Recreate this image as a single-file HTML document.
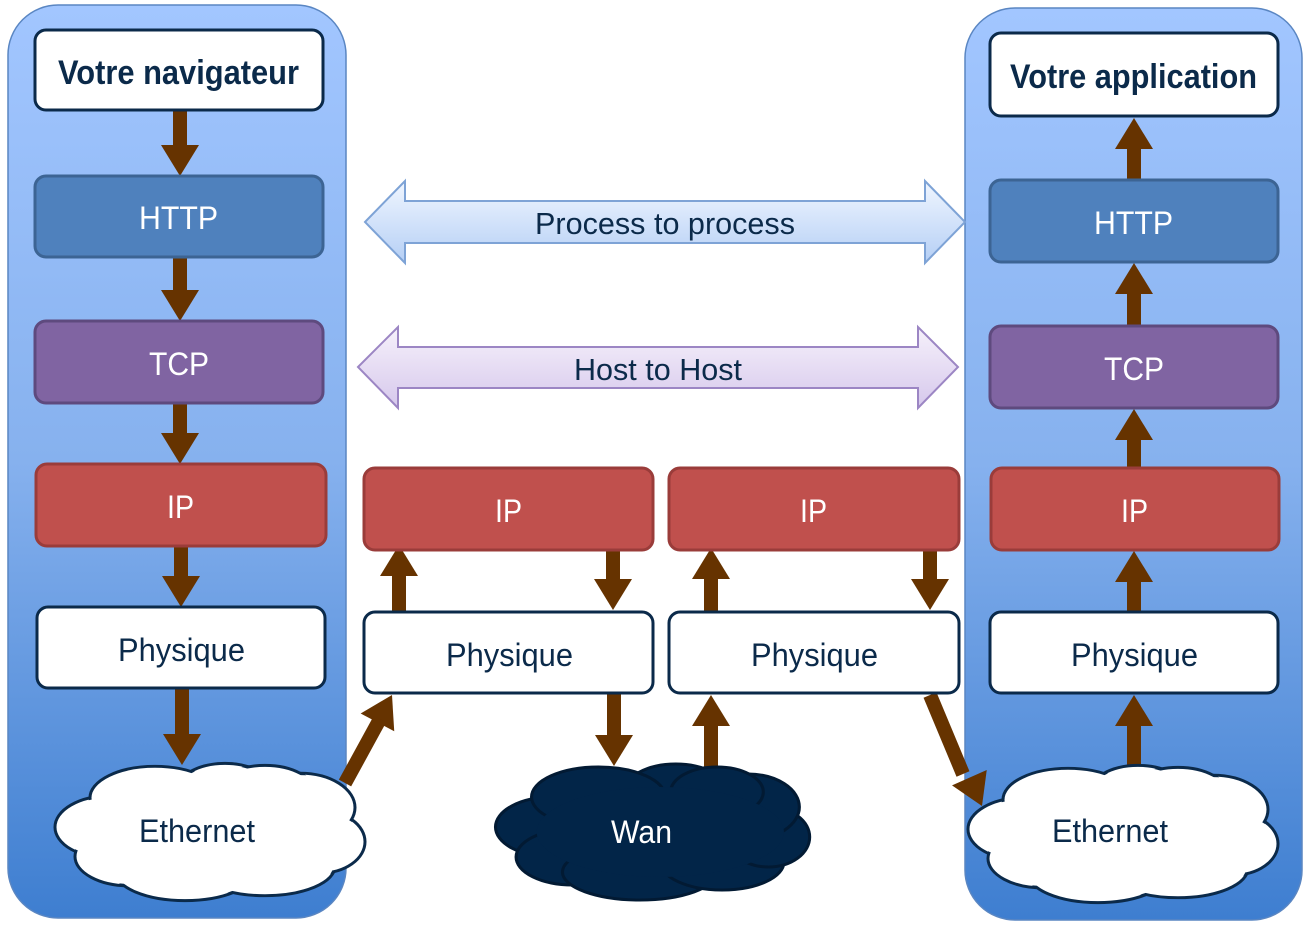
<!DOCTYPE html>
<html><head><meta charset="utf-8"><style>
html,body{margin:0;padding:0;background:#fff}
svg{display:block}
text{font-family:"Liberation Sans Narrow","Liberation Sans",sans-serif}
</style></head><body>
<svg width="1310" height="932" viewBox="0 0 1310 932" xmlns="http://www.w3.org/2000/svg">
<defs>
<linearGradient id="pg" x1="0" y1="0" x2="0" y2="1">
<stop offset="0" stop-color="#a2c6ff"/><stop offset="0.5" stop-color="#86b1ee"/><stop offset="1" stop-color="#3e7ed0"/></linearGradient>
<linearGradient id="bg1" x1="0" y1="0" x2="0" y2="1"><stop offset="0" stop-color="#f0f6ff"/><stop offset="1" stop-color="#b5cff5"/></linearGradient>
<linearGradient id="bg2" x1="0" y1="0" x2="0" y2="1"><stop offset="0" stop-color="#f6f1fb"/><stop offset="1" stop-color="#d6c8ec"/></linearGradient>
<path id="arrD" d="M-19,-31 H19 L0,0Z" fill="#663300"/>
<g id="cloudW">
<g fill="#fff" stroke="#0b2a4a" stroke-width="3">
<ellipse cx="-95" cy="-5" rx="55" ry="32"/><ellipse cx="-75" cy="25" rx="55" ry="30"/><ellipse cx="-20" cy="40" rx="70" ry="30"/>
<ellipse cx="60" cy="35" rx="70" ry="30"/><ellipse cx="115" cy="10" rx="45" ry="32"/><ellipse cx="95" cy="-25" rx="55" ry="35"/>
<ellipse cx="20" cy="-40" rx="50" ry="30"/><ellipse cx="-50" cy="-35" rx="65" ry="32"/><ellipse cx="60" cy="-40" rx="50" ry="28"/></g>
<g fill="#fff"><ellipse cx="-95" cy="-5" rx="53" ry="30"/><ellipse cx="-75" cy="25" rx="53" ry="28"/><ellipse cx="-20" cy="40" rx="68" ry="28"/>
<ellipse cx="60" cy="35" rx="68" ry="28"/><ellipse cx="115" cy="10" rx="43" ry="30"/><ellipse cx="95" cy="-25" rx="53" ry="33"/>
<ellipse cx="20" cy="-40" rx="48" ry="28"/><ellipse cx="-50" cy="-35" rx="63" ry="30"/><ellipse cx="60" cy="-40" rx="48" ry="26"/><ellipse cx="10" cy="0" rx="120" ry="45"/></g>
</g>
</defs>
<rect x="8" y="5" width="338" height="913" rx="50" fill="url(#pg)" stroke="#5a86c2" stroke-width="1.5"/>
<rect x="965" y="8" width="337" height="912" rx="50" fill="url(#pg)" stroke="#5a86c2" stroke-width="1.5"/>

<path d="M365,222 L405,181 V201 H925 V181 L965,222 L925,263 V243 H405 V263Z" fill="url(#bg1)" stroke="#7ea3d6" stroke-width="2"/>
<text x="535" y="234" font-size="31" textLength="260" lengthAdjust="spacingAndGlyphs" fill="#0b2a4a">Process to process</text>
<path d="M358,367 L398,327 V347 H918 V327 L958,367 L918,408 V388 H398 V408Z" fill="url(#bg2)" stroke="#9c86c4" stroke-width="2"/>
<text x="574" y="380" font-size="31" textLength="168" lengthAdjust="spacingAndGlyphs" fill="#0b2a4a">Host to Host</text>

<g fill="#663300">
<!-- left -->
<rect x="173" y="108" width="14" height="40" /><use href="#arrD" x="180" y="176"/>
<rect x="173" y="256" width="14" height="36" /><use href="#arrD" x="180" y="321"/>
<rect x="173" y="402" width="14" height="34" /><use href="#arrD" x="180" y="464"/>
<rect x="174" y="545" width="14" height="34" /><use href="#arrD" x="181" y="607"/>
<rect x="175" y="687" width="14" height="50" /><use href="#arrD" x="182" y="765"/>
<!-- middle -->
<use href="#arrD" transform="translate(399,545) rotate(180)"/><rect x="392" y="572" width="14" height="42"/>
<use href="#arrD" x="613" y="610"/><rect x="606" y="540" width="14" height="42"/>
<use href="#arrD" transform="translate(711,548) rotate(180)"/><rect x="704" y="575" width="14" height="39"/>
<use href="#arrD" x="930" y="610"/><rect x="923" y="540" width="14" height="42"/>
<use href="#arrD" x="614" y="766"/><rect x="607" y="692" width="14" height="46"/>
<use href="#arrD" transform="translate(711,695) rotate(180)"/><rect x="704" y="722" width="14" height="48"/>
<use href="#arrD" transform="translate(392,695) rotate(208)"/><path d="M345,783 L380,719" stroke="#663300" stroke-width="14"/>
<use href="#arrD" transform="translate(982,806) rotate(-24)"/><path d="M930,695 L963,774" stroke="#663300" stroke-width="14"/>
<!-- right -->
<use href="#arrD" transform="translate(1134,118) rotate(180)"/><rect x="1127" y="146" width="14" height="36"/>
<use href="#arrD" transform="translate(1134,263) rotate(180)"/><rect x="1127" y="291" width="14" height="37"/>
<use href="#arrD" transform="translate(1134,409) rotate(180)"/><rect x="1127" y="437" width="14" height="33"/>
<use href="#arrD" transform="translate(1134,551) rotate(180)"/><rect x="1127" y="579" width="14" height="35"/>
<use href="#arrD" transform="translate(1134,695) rotate(180)"/><rect x="1127" y="723" width="14" height="45"/>
</g>

<g stroke-width="3" font-size="32" lengthAdjust="spacingAndGlyphs">
<rect x="35" y="30" width="288" height="80" rx="11" fill="#fff" stroke="#0b2a4a"/>
<text x="58" y="84" font-weight="bold" font-size="34" textLength="241" lengthAdjust="spacingAndGlyphs" fill="#0b2a4a" stroke="none">Votre navigateur</text>
<rect x="35" y="176" width="288" height="81" rx="11" fill="#4f81bd" stroke="#3c6494"/>
<text x="139" y="229" textLength="79" lengthAdjust="spacingAndGlyphs" fill="#fff" stroke="none">HTTP</text>
<rect x="35" y="321" width="288" height="82" rx="11" fill="#8064a2" stroke="#5e4a7e"/>
<text x="149" y="375" textLength="60" lengthAdjust="spacingAndGlyphs" fill="#fff" stroke="none">TCP</text>
<rect x="36" y="464" width="290" height="82" rx="11" fill="#c0504d" stroke="#9a3c3a"/>
<text x="167" y="518" textLength="27" lengthAdjust="spacingAndGlyphs" fill="#fff" stroke="none">IP</text>
<rect x="37" y="607" width="288" height="81" rx="11" fill="#fff" stroke="#0b2a4a"/>
<text x="118" y="661" textLength="127" lengthAdjust="spacingAndGlyphs" fill="#0b2a4a" stroke="none">Physique</text>

<rect x="364" y="468" width="289" height="82" rx="11" fill="#c0504d" stroke="#9a3c3a"/>
<text x="495" y="522" textLength="27" lengthAdjust="spacingAndGlyphs" fill="#fff" stroke="none">IP</text>
<rect x="669" y="468" width="290" height="82" rx="11" fill="#c0504d" stroke="#9a3c3a"/>
<text x="800" y="522" textLength="27" lengthAdjust="spacingAndGlyphs" fill="#fff" stroke="none">IP</text>
<rect x="364" y="612" width="289" height="81" rx="11" fill="#fff" stroke="#0b2a4a"/>
<text x="446" y="666" textLength="127" lengthAdjust="spacingAndGlyphs" fill="#0b2a4a" stroke="none">Physique</text>
<rect x="669" y="612" width="290" height="81" rx="11" fill="#fff" stroke="#0b2a4a"/>
<text x="751" y="666" textLength="127" lengthAdjust="spacingAndGlyphs" fill="#0b2a4a" stroke="none">Physique</text>

<rect x="990" y="33" width="288" height="83" rx="11" fill="#fff" stroke="#0b2a4a"/>
<text x="1010" y="88" font-weight="bold" font-size="34" textLength="247" lengthAdjust="spacingAndGlyphs" fill="#0b2a4a" stroke="none">Votre application</text>
<rect x="990" y="180" width="288" height="82" rx="11" fill="#4f81bd" stroke="#3c6494"/>
<text x="1094" y="234" textLength="79" lengthAdjust="spacingAndGlyphs" fill="#fff" stroke="none">HTTP</text>
<rect x="990" y="326" width="288" height="82" rx="11" fill="#8064a2" stroke="#5e4a7e"/>
<text x="1104" y="380" textLength="60" lengthAdjust="spacingAndGlyphs" fill="#fff" stroke="none">TCP</text>
<rect x="991" y="468" width="288" height="82" rx="11" fill="#c0504d" stroke="#9a3c3a"/>
<text x="1121" y="522" textLength="27" lengthAdjust="spacingAndGlyphs" fill="#fff" stroke="none">IP</text>
<rect x="990" y="612" width="288" height="81" rx="11" fill="#fff" stroke="#0b2a4a"/>
<text x="1071" y="666" textLength="127" lengthAdjust="spacingAndGlyphs" fill="#0b2a4a" stroke="none">Physique</text>
</g>

<use href="#cloudW" transform="translate(205,832) scale(1.0,0.98)"/>
<text x="139" y="842" font-size="32" textLength="116" lengthAdjust="spacingAndGlyphs" fill="#0b2a4a">Ethernet</text>
<use href="#cloudW" transform="translate(1118,834) scale(1.0,0.98)"/>
<text x="1052" y="842" font-size="32" textLength="116" lengthAdjust="spacingAndGlyphs" fill="#0b2a4a">Ethernet</text>

<g transform="translate(650,832) scale(1.03,1)">
<g fill="#022548" stroke="#021a33" stroke-width="3">
<ellipse cx="-95" cy="-5" rx="55" ry="30"/><ellipse cx="-75" cy="25" rx="55" ry="28"/><ellipse cx="-10" cy="40" rx="75" ry="28"/>
<ellipse cx="70" cy="30" rx="60" ry="28"/><ellipse cx="115" cy="5" rx="40" ry="30"/><ellipse cx="95" cy="-25" rx="50" ry="33"/>
<ellipse cx="25" cy="-40" rx="50" ry="28"/><ellipse cx="-50" cy="-35" rx="65" ry="30"/><ellipse cx="65" cy="-40" rx="45" ry="25"/></g>
<ellipse cx="10" cy="0" rx="120" ry="45" fill="#022548"/>
</g>
<text x="611" y="843" font-size="32" textLength="61" lengthAdjust="spacingAndGlyphs" fill="#fff">Wan</text>
</svg>
</body></html>
